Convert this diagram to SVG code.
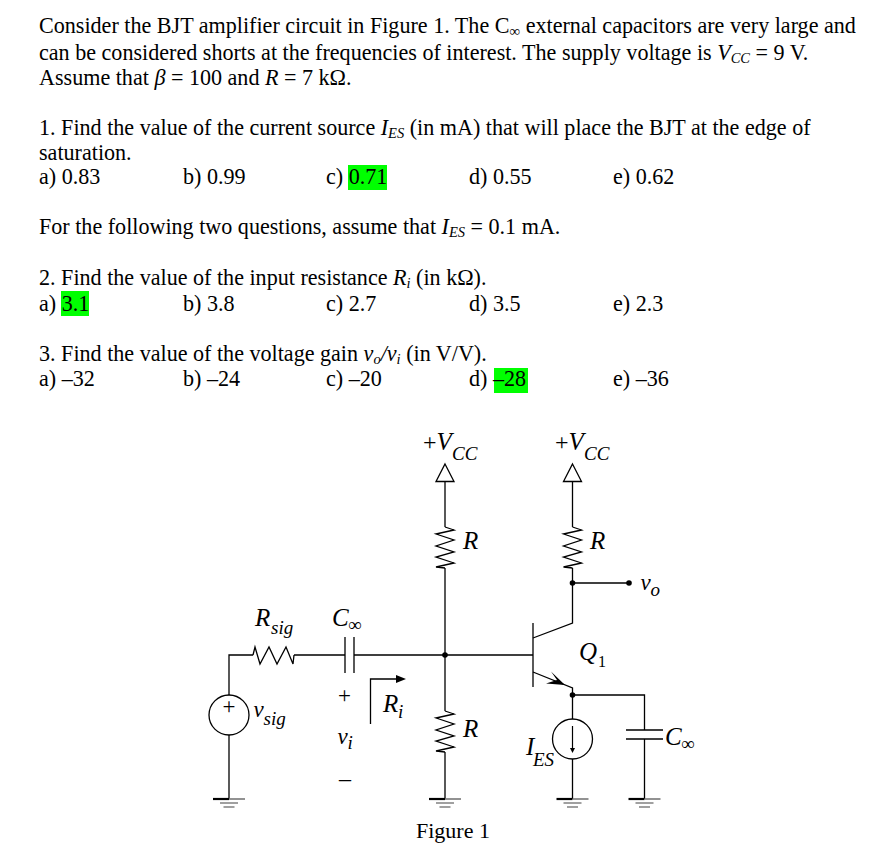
<svg xmlns="http://www.w3.org/2000/svg" width="874" height="856" viewBox="0 0 874 856">
<style>
text{font-family:"Liberation Serif","Times New Roman",serif;fill:#000;white-space:pre}
.t{font-size:22.1px}
.i{font-style:italic}
.l{font-size:25px;font-style:italic}
.v{font-size:23px;font-style:italic}
.s{font-size:19px;font-style:italic}
.w{fill:none;stroke:#000;stroke-width:1.3}
.h{fill:#00ff00}
.d{fill:#000}
.n{fill:#fff;stroke:#000;stroke-width:1.3}
</style>
<defs>
<g id="gnd"><path d="M-16 0H0" stroke="#000" stroke-width="2.2"/><path d="M0 0H16" stroke="#777" stroke-width="1.6"/><path d="M-9 4H9" stroke="#777" stroke-width="1.4"/><path d="M-5.500 8H5.500" stroke="#777" stroke-width="1.4"/></g>
<path id="res" class="w" d="M0 0L9 3L-9 7L9 13L-9 19L9 25L-9 30L9 36L-9 40L0 41"/>
</defs>
<rect width="874" height="856" fill="#fff"/>
<g id="question-text">
<rect class="h" x="348" y="165" width="39" height="25"/>
<rect class="h" x="61" y="291" width="28" height="25"/>
<rect class="h" x="494" y="368" width="34" height="25"/>
<text class="t" x="39" y="33">Consider the BJT amplifier circuit in Figure 1. The C<tspan font-size="15" dy="3">∞</tspan><tspan dy="-3"> external capacitors are very large and</tspan></text>
<text class="t" x="39" y="60">can be considered shorts at the frequencies of interest. The supply voltage is <tspan class="i">V</tspan><tspan class="i" font-size="14.500" dy="3">CC</tspan><tspan dy="-3"> = 9 V.</tspan></text>
<text class="t" x="39" y="85">Assume that <tspan class="i">β</tspan> = 100 and <tspan class="i">R</tspan> = 7 kΩ.</text>
<text class="t" x="39" y="135">1. Find the value of the current source <tspan class="i">I</tspan><tspan class="i" font-size="14.500" dy="3">ES</tspan><tspan dy="-3"> (in mA) that will place the BJT at the edge of</tspan></text>
<text class="t" x="39" y="160">saturation.</text>
<text class="t" x="39" y="184">a) 0.83</text><text class="t" x="183" y="184">b) 0.99</text><text class="t" x="326" y="184">c) 0.71</text><text class="t" x="469" y="184">d) 0.55</text><text class="t" x="613" y="184">e) 0.62</text>
<text class="t" x="39" y="234">For the following two questions, assume that <tspan class="i">I</tspan><tspan class="i" font-size="14.500" dy="3">ES</tspan><tspan dy="-3"> = 0.1 mA.</tspan></text>
<text class="t" x="39" y="285">2. Find the value of the input resistance <tspan class="i">R</tspan><tspan class="i" font-size="14.500" dy="3">i</tspan><tspan dy="-3"> (in kΩ).</tspan></text>
<text class="t" x="39" y="311">a) 3.1</text><text class="t" x="183" y="311">b) 3.8</text><text class="t" x="326" y="311">c) 2.7</text><text class="t" x="469" y="311">d) 3.5</text><text class="t" x="613" y="311">e) 2.3</text>
<text class="t" x="39" y="361">3. Find the value of the voltage gain <tspan class="i">v</tspan><tspan class="i" font-size="14.500" dy="3">o</tspan><tspan class="i" dy="-3">/v</tspan><tspan class="i" font-size="14.500" dy="3">i</tspan><tspan dy="-3"> (in V/V).</tspan></text>
<text class="t" x="39" y="386">a) –32</text><text class="t" x="183" y="386">b) –24</text><text class="t" x="326" y="386">c) –20</text><text class="t" x="469" y="386">d) –28</text><text class="t" x="613" y="386">e) –36</text>
</g>
<g id="connectors">
<path class="w" d="M445 482V527M445 568V711M445 752V799"/>
<path class="w" d="M229 695V655H253M294 655H345M354 655H533"/>
<path class="w" d="M229 735V799"/>
<path class="w" d="M572.500 482V527M572.500 568V623L533 638"/>
<path class="w" d="M572.500 583H629"/>
<path class="w" d="M533 672L572.500 688V719M572.500 759V799"/>
<path class="w" d="M572.500 695H644.500V730M644.500 739V799"/>
<path class="w" d="M370.500 724V679H396"/>
</g>
<g id="vcc-left"><path class="n" d="M445 464L454 481.500H436Z"/><text x="423" y="450" font-size="24">+<tspan class="i" font-size="25">V</tspan></text><text class="s" x="452" y="460">CC</text></g>
<g id="vcc-right"><path class="n" d="M572.500 464L581.500 481.500H563.500Z"/><text x="555" y="450" font-size="24">+<tspan class="i" font-size="25">V</tspan></text><text class="s" x="584" y="460">CC</text></g>
<g id="r-top-left"><use href="#res" x="445" y="527"/><text class="l" x="463" y="549">R</text></g>
<g id="r-top-right"><use href="#res" x="572.500" y="527"/><text class="l" x="590" y="549">R</text></g>
<g id="r-bottom"><use href="#res" x="445" y="711"/><text class="l" x="463" y="737">R</text></g>
<g id="node-vo"><circle class="d" cx="572.500" cy="583" r="2.800"/><circle class="d" cx="629" cy="583" r="2.800"/><text class="v" x="640.500" y="590">v</text><text class="s" x="650.500" y="596" font-size="18">o</text></g>
<g id="rsig"><path class="w" d="M253 655L255 647L260 664L269 647L277 664L286 647L293 664L294 655"/><text class="l" x="255" y="626">R</text><text class="s" x="271" y="634">sig</text></g>
<g id="c-input"><path class="w" d="M345 637V673M354 637V673"/><text class="l" x="332" y="626">C</text><text x="348" y="631" font-size="19">∞</text></g>
<g id="node-base"><circle class="d" cx="445" cy="655" r="2.800"/></g>
<g id="vsig"><circle cx="229" cy="715" r="20" fill="none" stroke="#000" stroke-width="1.300"/><text x="222.500" y="714" font-size="23">+</text><text class="v" x="253.500" y="717">v</text><text class="s" x="263.500" y="725">sig</text></g>
<g id="vi-label"><text x="338" y="703" font-size="23">+</text><text class="v" x="337.500" y="744">v</text><text class="s" x="347.500" y="749" font-size="15">i</text><text x="339" y="786" font-size="24">–</text></g>
<g id="ri"><path class="d" d="M396 675L406 679L396 683Z"/><text class="l" x="383" y="712">R</text><text class="s" x="398" y="718">i</text></g>
<g id="q1"><path class="w" d="M533 623V687"/><path class="d" d="M565 685L551 671.500L557 680L546 683.500Z"/><text class="l" x="579" y="660">Q</text><text x="598" y="667" font-size="16">1</text></g>
<g id="node-emitter"><circle class="d" cx="572.500" cy="695" r="2.800"/></g>
<g id="i-es"><circle cx="572.500" cy="739" r="20" fill="none" stroke="#000" stroke-width="1.300"/><path d="M572.500 726V748" stroke="#000" stroke-width="1.200" fill="none"/><path class="d" d="M570 748H575L572.500 753Z"/><text class="l" x="526" y="755">I</text><text class="s" x="533" y="766">ES</text></g>
<g id="c-out"><path class="w" d="M626 730H663M626 739H663"/><text class="l" x="665" y="745">C</text><text x="681" y="750" font-size="19">∞</text></g>
<g id="grounds"><use href="#gnd" x="229" y="799"/><use href="#gnd" x="445" y="799"/><use href="#gnd" x="572.500" y="799"/><use href="#gnd" x="644.500" y="799"/></g>
<text id="figure-label" x="416" y="838" font-size="22">Figure 1</text>
</svg>
